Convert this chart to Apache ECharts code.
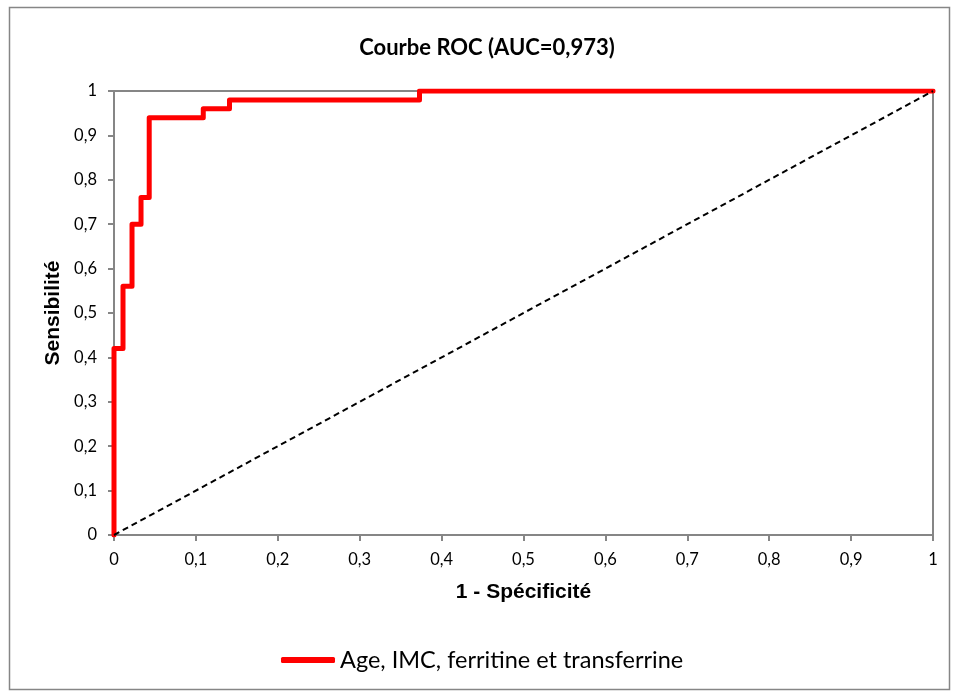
<!DOCTYPE html>
<html>
<head>
<meta charset="utf-8">
<script src="https://cdn.jsdelivr.net/npm/echarts@6/dist/echarts.min.js"></script>
<style>
html,body{margin:0;padding:0;background:#fff;}
#c{width:954px;height:693px;}
</style>
</head>
<body>
<div id="c"></div>
<script>
// ROC curve corner points (1 - specificity, sensitivity)
const fpr = [0, 0, 0.011, 0.011, 0.022, 0.022, 0.033, 0.033, 0.043, 0.043, 0.109, 0.109, 0.141, 0.141, 0.373, 0.373, 1];
const tpr = [0, 0.42, 0.42, 0.56, 0.56, 0.70, 0.70, 0.76, 0.76, 0.94, 0.94, 0.96, 0.96, 0.98, 0.98, 1, 1];
const diagX = [0, 1];
const diagY = [0, 1];
const seriesName = 'Age, IMC, ferritine et transferrine';
const titleText = 'Courbe ROC (AUC=0,973)';
const xName = '1 - Spécificité';
const yName = 'Sensibilité';

const rocData = fpr.map((x, i) => [x, tpr[i]]);
const diagData = diagX.map((x, i) => [x, diagY[i]]);
const fmt = v => String(Math.round(v * 10) / 10).replace('.', ',');
const axisColor = '#868686';

const chart = echarts.init(document.getElementById('c'), null, {renderer: 'canvas'});
chart.setOption({
  animation: false,
  backgroundColor: '#fff',
  title: {
    text: titleText,
    left: 482, textAlign: 'center', top: 32,
    textStyle: {fontFamily: 'Lato', fontWeight: 'bold', fontSize: 22, color: '#000'}
  },
  graphic: [{
    type: 'rect', z: -1,
    shape: {x: 9.5, y: 7.5, width: 940, height: 682},
    style: {fill: 'none', stroke: axisColor, lineWidth: 1.5}
  }],
  grid: {left: 114, right: 21, top: 91, bottom: 158, show: true, borderColor: axisColor, borderWidth: 2, backgroundColor: 'transparent'},
  legend: {
    data: [seriesName],
    left: 276, top: 643,
    icon: 'roundRect', itemWidth: 54, itemHeight: 6, itemGap: 10,
    textStyle: {fontFamily: 'Lato', fontSize: 23.5, color: '#000'}
  },
  xAxis: {
    type: 'value', min: 0, max: 1, interval: 0.1,
    name: xName, nameLocation: 'middle', nameGap: 47,
    nameTextStyle: {fontFamily: 'Liberation Sans', fontWeight: 'bold', fontSize: 21, color: '#000'},
    axisLine: {show: true, lineStyle: {color: axisColor, width: 2}},
    axisTick: {show: true, inside: false, length: 6, lineStyle: {color: axisColor, width: 2}},
    axisLabel: {formatter: fmt, margin: 16, fontFamily: 'Lato', fontSize: 16.5, color: '#000'},
    splitLine: {show: false}
  },
  yAxis: {
    type: 'value', min: 0, max: 1, interval: 0.1,
    name: yName, nameLocation: 'middle', nameGap: 45, nameRotate: 90,
    nameTextStyle: {fontFamily: 'Liberation Sans', fontWeight: 'bold', fontSize: 21, color: '#000'},
    axisLine: {show: true, lineStyle: {color: axisColor, width: 2}},
    axisTick: {show: true, inside: false, length: 6, lineStyle: {color: axisColor, width: 2}},
    axisLabel: {formatter: fmt, margin: 17, fontFamily: 'Lato', fontSize: 16.5, color: '#000'},
    splitLine: {show: false}
  },
  series: [
    {
      name: seriesName, type: 'line', data: rocData,
      symbol: 'none', color: '#FF0000',
      lineStyle: {color: '#FF0000', width: 5, join: 'round', cap: 'round'},
      z: 3
    },
    {
      name: 'diag', type: 'line', data: diagData,
      symbol: 'none', color: '#000',
      lineStyle: {color: '#000', width: 2, type: [6, 4]},
      z: 4
    }
  ]
});
</script>
</body>
</html>
